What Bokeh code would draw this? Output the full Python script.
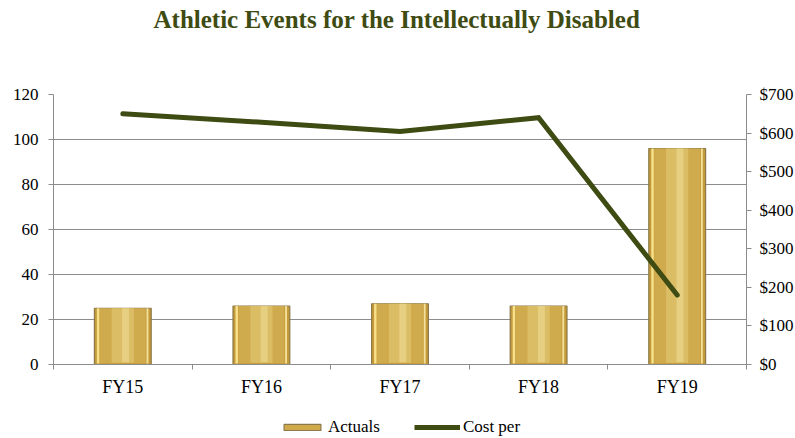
from bokeh.plotting import figure
from bokeh.layouts import column
from bokeh.models import (ColumnDataSource, Range1d, LinearAxis, FixedTicker, Title,
                          NumeralTickFormatter, Legend, LegendItem, SingleIntervalTicker)
from bokeh.transform import dodge
from bokeh.embed import file_html
from bokeh.resources import INLINE

# ---- data ----
categories = ["FY15", "FY16", "FY17", "FY18", "FY19"]
actuals = [25, 26, 27, 26, 96]
cost_per = [650, 628, 604, 640, 180]
title_text = "Athletic Events for the Intellectually Disabled"
series_names = ["Actuals", "Cost per"]

xpos = list(range(len(categories)))
src = ColumnDataSource(dict(x=xpos, actuals=actuals, cost=cost_per))

FONT = "Liberation Serif"
GRID = "#8c8c8c"
OLIVE = "#3e4b12"
BAR_FILL = "#c49a38"
BAR_LINE = "#8d7a4c"

p = figure(frame_width=693, frame_height=270, output_backend="svg", toolbar_location=None,
           x_range=Range1d(-0.5, 4.5), y_range=Range1d(0, 120),
           min_border_left=53, min_border_right=49, min_border_top=94,
           min_border_bottom=40)
p.title = None
p.outline_line_color = None
p.background_fill_color = "white"

# blank spacer above the frame, then the title further out
p.add_layout(Title(text=" ", text_font_size="10px", standoff=49), "above")
p.add_layout(Title(text=title_text, align="left", offset=100, text_font=FONT,
                   text_font_size="25px", text_font_style="bold", text_color=OLIVE,
                   standoff=0), "above")

# grid
p.xgrid.visible = False
p.ygrid.grid_line_color = GRID
p.ygrid.grid_line_width = 1
p.yaxis.ticker = SingleIntervalTicker(interval=20)

# left axis
ya = p.yaxis[0]
ya.axis_line_color = GRID
ya.major_tick_line_color = GRID
ya.major_tick_in = 0
ya.major_tick_out = 5
ya.minor_tick_line_color = None
ya.major_label_text_font = FONT
ya.major_label_text_font_size = "17px"
ya.major_label_text_color = "black"
ya.major_label_standoff = 10

# x axis
xa = p.xaxis[0]
xa.ticker = FixedTicker(ticks=xpos, minor_ticks=[i - 0.5 for i in range(len(categories) + 1)])
xa.major_label_overrides = {i: c for i, c in enumerate(categories)}
xa.axis_line_color = GRID
xa.major_tick_line_color = None
xa.major_tick_in = 0
xa.major_tick_out = 0
xa.minor_tick_line_color = GRID
xa.minor_tick_in = 0
xa.minor_tick_out = 5
xa.major_label_text_font = FONT
xa.major_label_text_font_size = "18px"
xa.major_label_text_color = "black"
xa.major_label_standoff = 7

# right axis
p.extra_y_ranges = {"cost": Range1d(0, 700)}
ra = LinearAxis(y_range_name="cost", ticker=SingleIntervalTicker(interval=100),
                formatter=NumeralTickFormatter(format="$0,0"))
ra.axis_line_color = GRID
ra.major_tick_line_color = GRID
ra.major_tick_in = 0
ra.major_tick_out = 5
ra.minor_tick_line_color = None
ra.major_label_text_font = FONT
ra.major_label_text_font_size = "17px"
ra.major_label_text_color = "black"
ra.major_label_standoff = 8
p.add_layout(ra, "right")

# bars (layered to imitate the gold gradient)
p.vbar(x="x", top="actuals", width=0.41, source=src,
       fill_color=BAR_FILL, line_color=BAR_LINE, line_width=1.2)
p.vbar(x="x", top="actuals", bottom=0.6, width=0.33, source=src,
       fill_color="#d0ab4e", line_color=None)
p.vbar(x="x", top="actuals", bottom=0.8, width=0.16, source=src,
       fill_color="#dcbf69", line_color=None, fill_alpha=0.9)
p.vbar(x=dodge("x", 0.02, range=p.x_range), top="actuals", bottom=1.0, width=0.05, source=src,
       fill_color="#ead38a", line_color=None, fill_alpha=0.8)
p.vbar(x=dodge("x", -0.178, range=p.x_range), top="actuals", bottom=0.5, width=0.018, source=src,
       fill_color="#f6e08a", line_color=None)
p.vbar(x=dodge("x", 0.178, range=p.x_range), top="actuals", bottom=0.5, width=0.014, source=src,
       fill_color="#f2df9a", line_color=None)

# line
p.line(x="x", y="cost", y_range_name="cost", source=src, line_color=OLIVE,
       line_width=5, line_cap="round", line_join="miter")

# ---- legend strip below the chart (its renderers sit outside the strip's view) ----
leg = figure(width=795, height=34, output_backend="svg", toolbar_location=None,
             x_axis_type=None, y_axis_type=None,
             x_range=Range1d(50, 51), y_range=Range1d(5000, 5001), min_border=0)
leg.title = None
leg.outline_line_color = None
leg.xgrid.visible = False
leg.ygrid.visible = False
r_bar = leg.vbar(x="x", top="actuals", width=0.4, source=src,
                 fill_color="#cfa94a", line_color=BAR_LINE, line_width=1.2)
r_line = leg.line(x="x", y="cost", source=src, line_color=OLIVE, line_width=5)

legend = Legend(items=[LegendItem(label=series_names[0], renderers=[r_bar]),
                       LegendItem(label=series_names[1], renderers=[r_line])],
                orientation="horizontal", location=(226, 1),
                glyph_width=46, glyph_height=8, label_text_font=FONT,
                label_text_font_size="17px", label_text_color="black",
                label_standoff=3, spacing=34,
                border_line_color=None, background_fill_alpha=0, padding=0,
                margin=0)
leg.add_layout(legend, "center")

layout = column(p, leg, spacing=0)
open("out.html", "w").write(file_html(layout, INLINE))
